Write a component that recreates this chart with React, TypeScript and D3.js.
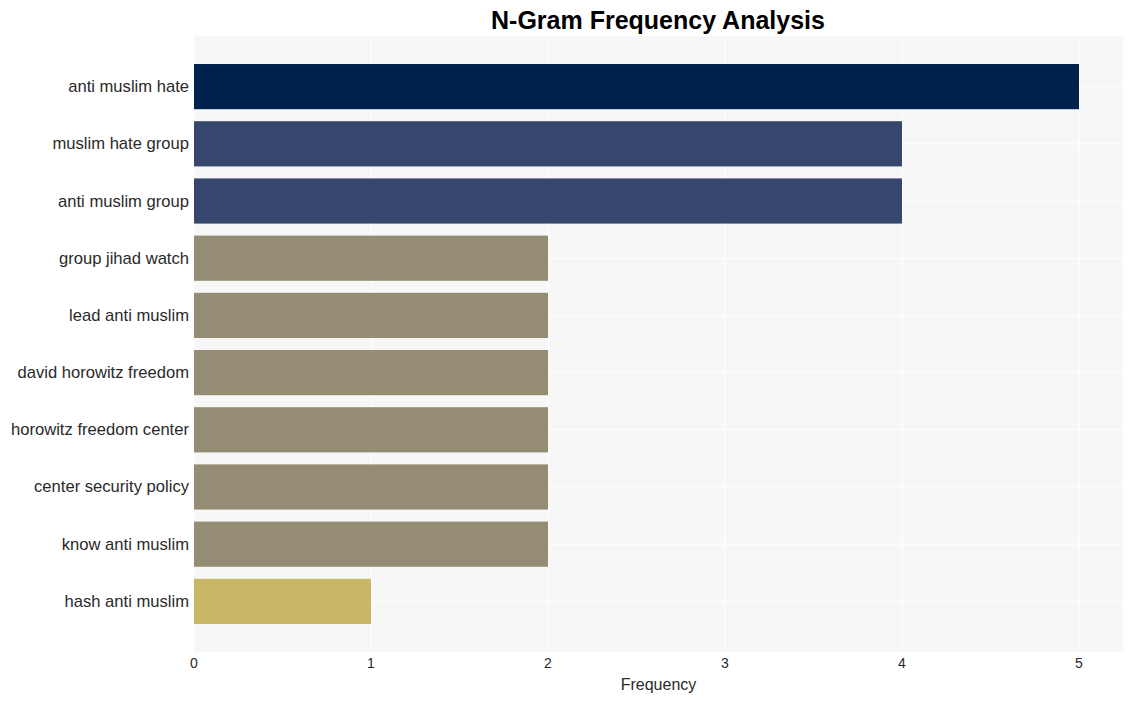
import React from "react";
import * as d3 from "d3";

const categories = [
  "anti muslim hate",
  "muslim hate group",
  "anti muslim group",
  "group jihad watch",
  "lead anti muslim",
  "david horowitz freedom",
  "horowitz freedom center",
  "center security policy",
  "know anti muslim",
  "hash anti muslim",
];
const values = [5, 4, 4, 2, 2, 2, 2, 2, 2, 1];
const xTicks = [0, 1, 2, 3, 4, 5];

const W = 1133;
const H = 701;
const left = 194;
const right = 1123;
const top = 36;
const bottom = 652;

function colorFor(v: number): string {
  if (v >= 5) return "#00214e";
  if (v >= 4) return "#37466d";
  if (v >= 2) return "#948d74";
  return "#c8b766";
}

export default function App() {
  const x = d3.scaleLinear().domain([0, 5]).range([left, 1079]);
  const y = d3
    .scaleBand<string>()
    .domain(categories)
    .range([top, bottom])
    .paddingInner(0.21)
    .paddingOuter(0.49);
  const font = "Liberation Sans, Arial, Helvetica, sans-serif";
  return (
    <svg
      width={W}
      height={H}
      style={{ position: "absolute", left: 0, top: 0 }}
      fontFamily={font}
    >
      <rect x={0} y={0} width={W} height={H} fill="#ffffff" />
      <rect x={left} y={top} width={right - left} height={bottom - top} fill="#f7f7f7" />
      {xTicks.map((t) => (
        <line key={"gx" + t} x1={x(t)} x2={x(t)} y1={top} y2={bottom} stroke="#ffffff" strokeWidth={1} />
      ))}
      {categories.map((c) => (
        <line
          key={"gy" + c}
          x1={left}
          x2={right}
          y1={(y(c) ?? 0) + y.bandwidth() / 2}
          y2={(y(c) ?? 0) + y.bandwidth() / 2}
          stroke="#ffffff"
          strokeWidth={1}
        />
      ))}
      {categories.map((c, i) => (
        <rect
          key={"b" + c}
          x={x(0)}
          y={y(c)}
          width={x(values[i]) - x(0)}
          height={y.bandwidth()}
          fill={colorFor(values[i])}
        />
      ))}
      {categories.map((c) => (
        <text
          key={"l" + c}
          x={left - 5}
          y={(y(c) ?? 0) + y.bandwidth() / 2}
          textAnchor="end"
          dominantBaseline="central"
          fontSize={16.6}
          fill="#2a2a2a"
        >
          {c}
        </text>
      ))}
      {xTicks.map((t) => (
        <text
          key={"tx" + t}
          x={x(t)}
          y={663}
          textAnchor="middle"
          dominantBaseline="central"
          fontSize={14}
          fill="#2a2a2a"
        >
          {t}
        </text>
      ))}
      <text x={(left + right) / 2} y={684} textAnchor="middle" dominantBaseline="central" fontSize={16} fill="#2a2a2a">
        Frequency
      </text>
      <text x={658} y={20} textAnchor="middle" dominantBaseline="central" fontSize={25} fontWeight="bold" fill="#000000">
        N-Gram Frequency Analysis
      </text>
    </svg>
  );
}
